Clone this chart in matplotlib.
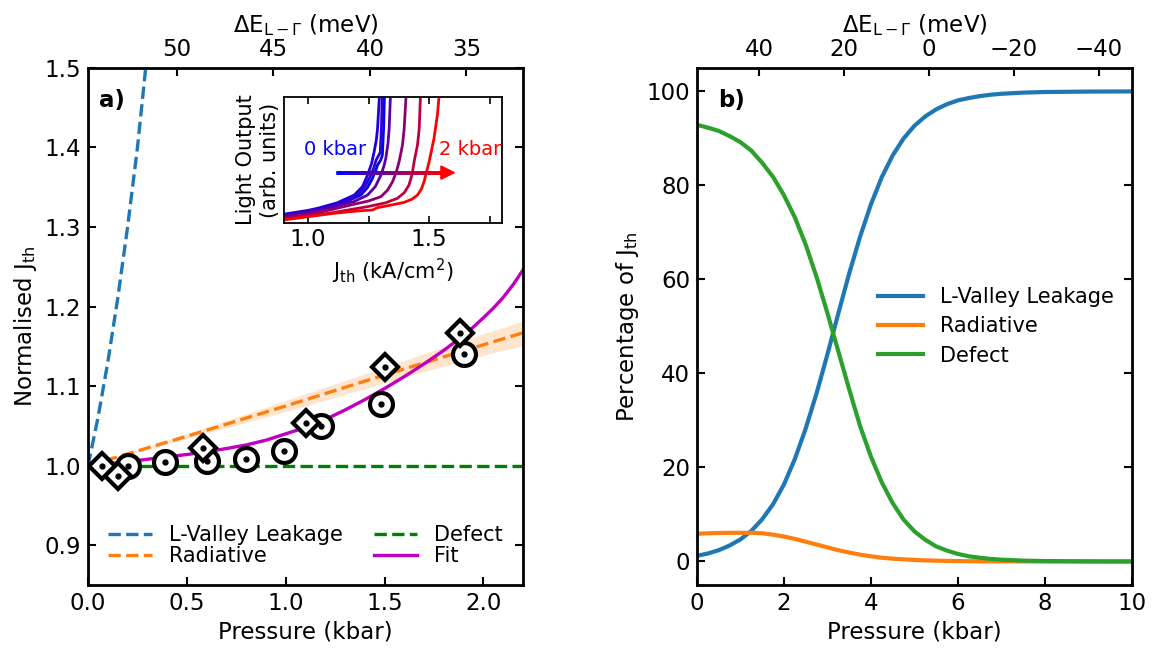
import numpy as np
import matplotlib.pyplot as plt
from matplotlib.collections import LineCollection
from matplotlib.colors import LinearSegmentedColormap

plt.rcParams['font.family'] = ['DejaVu Sans']
plt.rcParams['font.size'] = 16.5
plt.rcParams['mathtext.default'] = 'regular'

# ---- panel a: normalised threshold current vs pressure ----
circle_p = [0.20, 0.39, 0.60, 0.80, 0.99, 1.18, 1.48, 1.90]
circle_j = [1.000, 1.005, 1.006, 1.008, 1.018, 1.050, 1.077, 1.140]
diamond_p = [0.07, 0.15, 0.58, 1.10, 1.50, 1.88]
diamond_j = [0.999, 0.987, 1.022, 1.054, 1.124, 1.167]

leak_p = [0.0, 0.05, 0.10, 0.15, 0.20, 0.25, 0.30]
leak_j = [1.00, 1.06, 1.13, 1.21, 1.30, 1.40, 1.52]

rad_p = [0.0, 0.5, 1.0, 1.5, 2.0, 2.2]
rad_j = [1.000, 1.037, 1.075, 1.114, 1.152, 1.167]
rad_lo = [1.000, 1.034, 1.068, 1.104, 1.139, 1.151]
rad_hi = [1.000, 1.040, 1.082, 1.124, 1.166, 1.182]

defect_p = [0.0, 2.2]
defect_j = [1.0, 1.0]

fit_p = [0.0, 0.1, 0.2, 0.3, 0.4, 0.5, 0.6, 0.7, 0.8, 0.9, 1.0, 1.1,
         1.2, 1.3, 1.4, 1.5, 1.6, 1.7, 1.8, 1.9, 1.95, 2.0, 2.05, 2.1, 2.15, 2.2]
fit_j = [1.000, 1.0025, 1.005, 1.008, 1.011, 1.014, 1.0175, 1.0215, 1.026,
         1.032, 1.040, 1.048, 1.058, 1.070, 1.083, 1.097, 1.112, 1.128,
         1.145, 1.164, 1.1745, 1.186, 1.198, 1.2115, 1.2275, 1.246]

# inset: light output vs current, several pressures
inset_colors = ['#0000ff', '#1a00e6', '#3300cc', '#5900a6', '#8c0073', '#bf0040', '#ff0000']
inset_j = [
    [0.90, 1.0, 1.108, 1.17, 1.218, 1.245, 1.266, 1.280, 1.287, 1.300, 1.307, 1.312, 1.316],
    [0.90, 1.0, 1.040, 1.12, 1.191, 1.225, 1.246, 1.262, 1.273, 1.282, 1.287, 1.296],
    [0.90, 1.0, 1.10, 1.16, 1.205, 1.235, 1.257, 1.272, 1.281, 1.298, 1.303, 1.307],
    [0.90, 1.0, 1.108, 1.19, 1.246, 1.278, 1.301, 1.313, 1.321, 1.330, 1.335, 1.341],
    [0.90, 1.05, 1.177, 1.25, 1.301, 1.328, 1.349, 1.365, 1.376, 1.390, 1.397, 1.406],
    [0.90, 1.08, 1.246, 1.32, 1.369, 1.397, 1.417, 1.430, 1.438, 1.452, 1.459, 1.465],
    [0.90, 1.0, 1.108, 1.20, 1.266, 1.287, 1.35, 1.397, 1.430, 1.452, 1.468, 1.479,
     1.500, 1.520, 1.534, 1.543],
]
inset_l = [
    [0.063, 0.095, 0.143, 0.18, 0.222, 0.28, 0.355, 0.42, 0.46, 0.50, 0.54, 0.75, 1.05],
    [0.070, 0.10, 0.117, 0.16, 0.222, 0.29, 0.381, 0.47, 0.566, 0.66, 0.75, 1.05],
    [0.060, 0.095, 0.135, 0.175, 0.222, 0.29, 0.37, 0.44, 0.50, 0.56, 0.75, 1.05],
    [0.050, 0.085, 0.13, 0.17, 0.222, 0.29, 0.381, 0.45, 0.513, 0.63, 0.75, 1.05],
    [0.040, 0.085, 0.143, 0.175, 0.209, 0.26, 0.328, 0.41, 0.487, 0.62, 0.75, 1.05],
    [0.030, 0.075, 0.13, 0.16, 0.196, 0.24, 0.302, 0.39, 0.487, 0.62, 0.75, 1.05],
    [0.024, 0.05, 0.077, 0.095, 0.103, 0.122, 0.145, 0.164, 0.19, 0.222, 0.27, 0.328,
     0.487, 0.672, 0.857, 1.05],
]

# ---- panel b: percentage of Jth ----
pres = [0.0, 0.25, 0.5, 0.75, 1.0, 1.25, 1.5, 1.75, 2.0, 2.25, 2.5, 2.75, 3.0,
        3.25, 3.5, 3.75, 4.0, 4.25, 4.5, 4.75, 5.0, 5.25, 5.5, 5.75, 6.0,
        6.25, 6.5, 6.75, 7.0, 7.5, 8.0, 9.0, 10.0]
leakage = [1.2, 1.7, 2.4, 3.4, 4.7, 6.5, 9.0, 12.2, 16.4, 21.8, 28.3, 35.8, 44.1,
           52.8, 61.3, 69.1, 76.0, 81.8, 86.4, 90.0, 92.7, 94.7, 96.2, 97.3, 98.1,
           98.6, 99.0, 99.3, 99.5, 99.75, 99.88, 99.97, 100.0]
radiative = [5.9, 6.0, 6.05, 6.1, 6.1, 6.1, 6.0, 5.7, 5.3, 4.8, 4.2, 3.6, 3.0,
             2.4, 1.9, 1.45, 1.1, 0.8, 0.6, 0.45, 0.32, 0.24, 0.17, 0.12, 0.09,
             0.06, 0.04, 0.03, 0.02, 0.01, 0.0, 0.0, 0.0]
defect = [92.9, 92.3, 91.6, 90.5, 89.2, 87.4, 84.8, 81.8, 77.9, 73.2, 67.4, 60.5, 52.8,
          44.7, 36.6, 28.8, 22.3, 16.8, 12.4, 8.9, 6.4, 4.6, 3.2, 2.3, 1.6,
          1.1, 0.8, 0.55, 0.38, 0.18, 0.09, 0.02, 0.0]


def p_to_de(p):
    return 54.6 - 10.24 * np.asarray(p)


def de_to_p(e):
    return (54.6 - np.asarray(e)) / 10.24


def style_axes(ax):
    for s in ax.spines.values():
        s.set_linewidth(2)
    ax.tick_params(direction='in', width=1.5, length=6, right=True, pad=5)


fig = plt.figure(figsize=(11.63, 6.52), dpi=100)
ax1 = fig.add_axes([0.0757, 0.1028, 0.374, 0.793])
ax2 = fig.add_axes([0.5993, 0.1028, 0.374, 0.793])

# panel a
ax1.fill_between(rad_p, rad_lo, rad_hi, color='tab:orange', alpha=0.2, lw=0)
ax1.plot(leak_p, leak_j, '--', color='tab:blue', lw=2.4, label='L-Valley Leakage')
ax1.plot(rad_p, rad_j, '--', color='tab:orange', lw=2.4, label='Radiative')
ax1.plot(defect_p, defect_j, '--', color='green', lw=2.4, label='Defect')
ax1.plot(fit_p, fit_j, '-', color='m', lw=2.4, label='Fit')
ax1.plot(circle_p, circle_j, 'o', ms=16.5, mfc='white', mec='black', mew=3, ls='none')
ax1.plot(circle_p, circle_j, 'o', ms=3.5, color='black', ls='none')
ax1.plot(diamond_p, diamond_j, 'D', ms=13, mfc='white', mec='black', mew=3, ls='none')
ax1.plot(diamond_p, diamond_j, 'o', ms=3.5, color='black', ls='none')

ax1.set_xlim(0, 2.2)
ax1.set_ylim(0.85, 1.5)
ax1.set_xticks([0.0, 0.5, 1.0, 1.5, 2.0])
ax1.set_yticks([0.9, 1.0, 1.1, 1.2, 1.3, 1.4, 1.5])
ax1.set_xlabel('Pressure (kbar)')
ax1.set_ylabel('Normalised J$_{th}$')
style_axes(ax1)
ax1.text(0.025, 0.96, 'a)', transform=ax1.transAxes, fontweight='bold', va='top', ha='left')
ax1.legend(loc='lower center', ncol=2, frameon=False, fontsize=15,
           labelspacing=0.05, columnspacing=1.5, handlelength=2.1, handletextpad=0.8)

top1 = ax1.secondary_xaxis('top', functions=(p_to_de, de_to_p))
top1.set_xticks([50, 45, 40, 35])
top1.tick_params(direction='in', width=1.5, length=6, pad=5)
top1.set_xlabel(r'$\Delta$E$_{L-\Gamma}$ (meV)')

# inset
axin = fig.add_axes([0.244, 0.658, 0.1875, 0.193])
for jj, ll, cc in zip(inset_j, inset_l, inset_colors):
    axin.plot(jj, ll, color=cc, lw=2.0)
axin.set_xlim(0.9, 1.8)
axin.set_ylim(0, 1)
axin.set_yticks([])
axin.set_xticks([1.0, 1.25, 1.5, 1.75])
axin.set_xticklabels(['1.0', '', '1.5', ''])
axin.tick_params(direction='in', top=True, width=1.2, length=5, labelsize=16.5)
for s in axin.spines.values():
    s.set_linewidth(1.3)
axin.set_xlabel('J$_{th}$ (kA/cm$^{2}$)', fontsize=15)
axin.set_ylabel('Light Output\n(arb. units)', fontsize=15, labelpad=3)
axin.text(1.11, 0.58, '0 kbar', color='blue', fontsize=14, ha='center', va='center')
axin.text(1.54, 0.58, '2 kbar', color='red', fontsize=14, ha='left', va='center')

# gradient arrow
cmap = LinearSegmentedColormap.from_list('br', ['blue', 'red'])
ax_x = np.linspace(1.122, 1.575, 60)
segs = [[(ax_x[i], 0.40), (ax_x[i + 1], 0.40)] for i in range(len(ax_x) - 1)]
lc = LineCollection(segs, colors=cmap(np.linspace(0, 1, len(segs))), linewidths=2.6,
                    capstyle='projecting')
axin.add_collection(lc)
axin.annotate('', xy=(1.61, 0.40), xytext=(1.565, 0.40),
              arrowprops=dict(arrowstyle='-|>', color='red', lw=1.5, mutation_scale=22,
                              shrinkA=0, shrinkB=0))

# panel b
ax2.plot(pres, leakage, color='tab:blue', lw=3, label='L-Valley Leakage')
ax2.plot(pres, radiative, color='tab:orange', lw=3, label='Radiative')
ax2.plot(pres, defect, color='tab:green', lw=3, label='Defect')
ax2.set_xlim(0, 10)
ax2.set_ylim(-5, 105)
ax2.set_xticks([0, 2, 4, 6, 8, 10])
ax2.set_yticks([0, 20, 40, 60, 80, 100])
ax2.set_xlabel('Pressure (kbar)')
ax2.set_ylabel('Percentage of J$_{th}$')
style_axes(ax2)
ax2.text(0.048, 0.96, 'b)', transform=ax2.transAxes, fontweight='bold', va='top', ha='left')
ax2.legend(loc='center left', bbox_to_anchor=(0.372, 0.5), frameon=False, fontsize=15,
           handlelength=2.2, handletextpad=0.8, labelspacing=0.44)

top2 = ax2.secondary_xaxis('top', functions=(p_to_de, de_to_p))
top2.set_xticks([40, 20, 0, -20, -40])
top2.tick_params(direction='in', width=1.5, length=6, pad=5)
top2.set_xlabel(r'$\Delta$E$_{L-\Gamma}$ (meV)')

fig.savefig('out.png', dpi=100)
